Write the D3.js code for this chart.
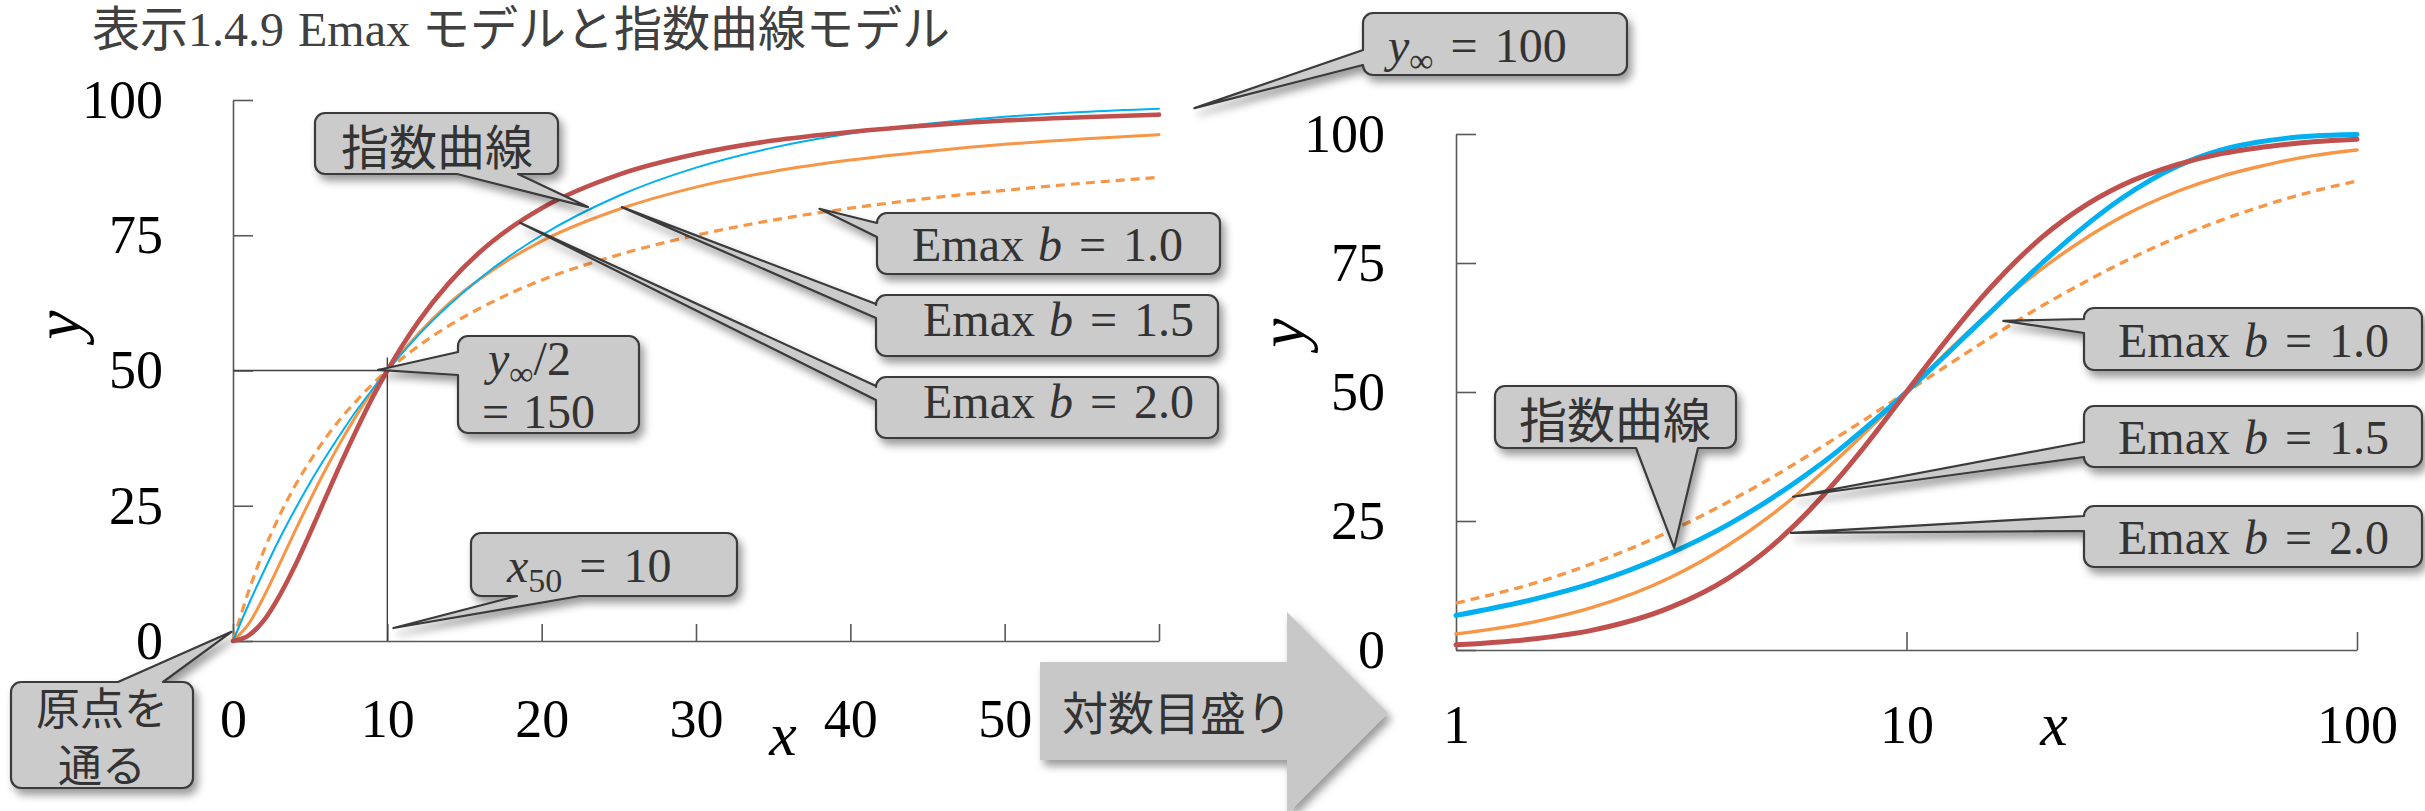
<!DOCTYPE html>
<html>
<head>
<meta charset="utf-8">
<script src="https://cdn.jsdelivr.net/npm/d3@7"></script>
<style>
  html, body { margin: 0; padding: 0; background: #fff; }
  svg { display: block; }
</style>
</head>
<body>
<svg id="chart" width="2425" height="811"></svg>
<script>
// ---- Linear-scale panel: x from 0 to 60 ----
const linX       = [0, 1, 2, 3, 4, 5, 6, 7, 8, 9, 10, 12, 14, 16, 18, 20, 25, 30, 35, 40, 45, 50, 55, 60];
const linExp     = [0, 6.7, 12.9, 18.8, 24.2, 29.3, 34.0, 38.4, 42.6, 46.4, 50.0, 56.5, 62.1, 67.0, 71.3, 75.0, 82.3, 87.5, 91.2, 93.8, 95.6, 96.9, 97.8, 98.4];
const linEmax10  = [0, 9.1, 16.7, 23.1, 28.6, 33.3, 37.5, 41.2, 44.4, 47.4, 50.0, 54.5, 58.3, 61.5, 64.3, 66.7, 71.4, 75.0, 77.8, 80.0, 81.8, 83.3, 84.6, 85.7];
const linEmax15  = [0, 3.1, 8.2, 14.1, 20.2, 26.1, 31.7, 36.9, 41.7, 46.1, 50.0, 56.8, 62.4, 66.9, 70.7, 73.9, 79.8, 83.9, 86.8, 88.9, 90.5, 91.8, 92.8, 93.6];
const linEmax20  = [0, 1.0, 3.8, 8.3, 13.8, 20.0, 26.5, 32.9, 39.0, 44.8, 50.0, 59.0, 66.2, 71.9, 76.4, 80.0, 86.2, 90.0, 92.5, 94.1, 95.3, 96.2, 96.8, 97.3];

// ---- Log-scale panel: x from 1 to 100 ----
const logX       = [1, 1.5, 2, 3, 4, 5, 6, 7, 8, 10, 12, 15, 20, 25, 30, 40, 50, 60, 70, 80, 100];
const logExp     = [6.7, 9.9, 12.9, 18.8, 24.2, 29.3, 34.0, 38.4, 42.6, 50.0, 56.5, 64.6, 75.0, 82.3, 87.5, 93.8, 96.9, 98.4, 99.2, 99.6, 99.9];
const logEmax10  = [9.1, 13.0, 16.7, 23.1, 28.6, 33.3, 37.5, 41.2, 44.4, 50.0, 54.5, 60.0, 66.7, 71.4, 75.0, 80.0, 83.3, 85.7, 87.5, 88.9, 90.9];
const logEmax15  = [3.1, 5.5, 8.2, 14.1, 20.2, 26.1, 31.7, 36.9, 41.7, 50.0, 56.8, 64.8, 73.9, 79.8, 83.9, 88.9, 91.8, 93.6, 94.9, 95.8, 96.9];
const logEmax20  = [1.0, 2.2, 3.8, 8.3, 13.8, 20.0, 26.5, 32.9, 39.0, 50.0, 59.0, 69.2, 80.0, 86.2, 90.0, 94.1, 96.2, 97.3, 98.0, 98.5, 99.0];

// ---- Ticks ----
const yTicks          = [0, 25, 50, 75, 100];
const linXTicks       = [0, 10, 20, 30, 40, 50, 60];
const linXTickLabels  = ["0", "10", "20", "30", "40", "50", ""];
const logXTicks       = [1, 10, 100];
const logXTickLabels  = ["1", "10", "100"];

// ---- Styles ----
const SERIF = "'Liberation Serif', 'DejaVu Serif', serif";
const CJK = "'Noto Sans CJK JP', 'Noto Sans', sans-serif";
const TEXT = "#333333";
const AXIS = "#595959";
const BLUE = "#00B0F0", RED = "#C0504D", ORANGE = "#F79646";

const svg = d3.select("#chart");

// drop shadow used by callouts and the arrow
const defs = svg.append("defs");
const flt = defs.append("filter").attr("id", "shadow")
  .attr("x", "-15%").attr("y", "-15%").attr("width", "140%").attr("height", "150%");
flt.append("feGaussianBlur").attr("in", "SourceAlpha").attr("stdDeviation", 4).attr("result", "blur");
flt.append("feOffset").attr("in", "blur").attr("dx", 4).attr("dy", 6).attr("result", "off");
flt.append("feComponentTransfer").attr("in", "off").attr("result", "sh")
  .append("feFuncA").attr("type", "linear").attr("slope", 0.4);
const mg = flt.append("feMerge");
mg.append("feMergeNode").attr("in", "sh");
mg.append("feMergeNode").attr("in", "SourceGraphic");

// ---- Scales ----
const xL = d3.scaleLinear().domain([0, 60]).range([233, 1159]);
const yL = d3.scaleLinear().domain([0, 100]).range([641, 100]);
const xR = d3.scaleLog().domain([1, 100]).range([1456, 2357]);
const yR = d3.scaleLinear().domain([0, 100]).range([650, 134]);

// ---- Title ----
const title = svg.append("text").attr("x", 92).attr("y", 46)
  .attr("font-size", 48).attr("fill", "#404040");
title.append("tspan").attr("font-family", CJK).text("表示");
title.append("tspan").attr("font-family", SERIF).text("1.4.9");
title.append("tspan").attr("font-family", SERIF).attr("dx", 14).text("Emax");
title.append("tspan").attr("font-family", CJK).attr("dx", 12).text("モデルと指数曲線モデル");

// ---- Axes ----
function styleAxis(g) {
  g.select(".domain").attr("stroke", AXIS).attr("stroke-width", 1.6);
  g.selectAll(".tick line").attr("stroke", AXIS).attr("stroke-width", 1.6);
  g.selectAll(".tick text").attr("font-family", SERIF).attr("font-size", 54).attr("fill", "#000");
}

svg.append("g").attr("transform", `translate(${xL(0)},0)`)
  .call(d3.axisLeft(yL).tickValues(yTicks).tickSizeInner(-20).tickSizeOuter(0).tickPadding(70))
  .call(styleAxis);
svg.append("g").attr("transform", `translate(0,${yL(0)})`)
  .call(d3.axisBottom(xL).tickValues(linXTicks).tickSizeInner(-17).tickSizeOuter(0).tickPadding(58)
    .tickFormat((d, i) => linXTickLabels[i]))
  .call(styleAxis);

svg.append("g").attr("transform", `translate(${xR(1)},0)`)
  .call(d3.axisLeft(yR).tickValues(yTicks).tickSizeInner(-20).tickSizeOuter(0).tickPadding(71))
  .call(styleAxis);
svg.append("g").attr("transform", `translate(0,${yR(0)})`)
  .call(d3.axisBottom(xR).tickValues(logXTicks).tickSizeInner(-18).tickSizeOuter(0).tickPadding(55)
    .tickFormat((d, i) => logXTickLabels[i]))
  .call(styleAxis);

// axis titles
function axisTitle(x, y, t, rotate) {
  svg.append("text")
    .attr("transform", `translate(${x},${y})` + (rotate ? " rotate(-90)" : ""))
    .attr("text-anchor", "middle")
    .attr("font-family", SERIF).attr("font-style", "italic")
    .attr("font-size", rotate ? 66 : 62).attr("fill", "#000").text(t);
}
axisTitle(80, 325, "y", true);
axisTitle(783, 755, "x", false);
axisTitle(1304, 333, "y", true);
axisTitle(2054, 745, "x", false);

// ---- Reference lines at (10, 50) ----
svg.append("line").attr("x1", xL(0)).attr("x2", xL(10)).attr("y1", yL(50)).attr("y2", yL(50))
  .attr("stroke", "#404040").attr("stroke-width", 1.4);
svg.append("line").attr("x1", xL(10)).attr("x2", xL(10)).attr("y1", yL(52.4)).attr("y2", yL(0))
  .attr("stroke", "#404040").attr("stroke-width", 1.4);

// ---- Curves ----
function drawSeries(xs, ys, xs_, ys_, spec) {
  const pts = xs.map((x, i) => [x, ys[i]]);
  const line = d3.line().x(d => xs_(d[0])).y(d => ys_(d[1])).curve(d3.curveMonotoneX);
  svg.append("path").datum(pts).attr("d", line)
    .attr("fill", "none").attr("stroke", spec.color).attr("stroke-width", spec.width)
    .attr("stroke-dasharray", spec.dash || null)
    .attr("stroke-linecap", spec.dash ? "butt" : "round");
}
drawSeries(linX, linEmax10, xL, yL, { color: ORANGE, width: 3.2, dash: "9,6" });
drawSeries(linX, linEmax15, xL, yL, { color: ORANGE, width: 3 });
drawSeries(linX, linExp,    xL, yL, { color: BLUE,   width: 2 });
drawSeries(linX, linEmax20, xL, yL, { color: RED,    width: 4.6 });

drawSeries(logX, logEmax10, xR, yR, { color: ORANGE, width: 3.4, dash: "9,6" });
drawSeries(logX, logEmax15, xR, yR, { color: ORANGE, width: 3.4 });
drawSeries(logX, logExp,    xR, yR, { color: BLUE,   width: 5 });
drawSeries(logX, logEmax20, xR, yR, { color: RED,    width: 5 });

// ---- "対数目盛り" block arrow ----
const ap = d3.path();
ap.moveTo(1040, 662); ap.lineTo(1287, 662); ap.lineTo(1287, 612); ap.lineTo(1388, 713);
ap.lineTo(1287, 814); ap.lineTo(1287, 760); ap.lineTo(1040, 760); ap.closePath();
svg.append("path").attr("d", ap.toString()).attr("fill", "#C8C8C8").attr("filter", "url(#shadow)");
svg.append("text").attr("x", 1062).attr("y", 710).attr("dominant-baseline", "central")
  .attr("font-family", CJK).attr("font-size", 46).attr("fill", TEXT).text("対数目盛り");

// ---- Callouts ----
function calloutPath(b, side, base, tip) {
  const [x, y, w, h] = b, r = 10;
  const p = d3.path();
  p.moveTo(x + r, y);
  if (side === "top") { p.lineTo(base[0], y); p.lineTo(tip[0], tip[1]); p.lineTo(base[1], y); }
  p.lineTo(x + w - r, y); p.arcTo(x + w, y, x + w, y + r, r);
  p.lineTo(x + w, y + h - r); p.arcTo(x + w, y + h, x + w - r, y + h, r);
  if (side === "bottom") { p.lineTo(base[1], y + h); p.lineTo(tip[0], tip[1]); p.lineTo(base[0], y + h); }
  p.lineTo(x + r, y + h); p.arcTo(x, y + h, x, y + h - r, r);
  if (side === "left") { p.lineTo(x, base[1]); p.lineTo(tip[0], tip[1]); p.lineTo(x, base[0]); }
  p.lineTo(x, y + r); p.arcTo(x, y, x + r, y, r);
  p.closePath();
  return p.toString();
}

// math-style label: parts are {t, i (italic), sub (subscript), dx}
function mathText(x, y, parts) {
  const t = svg.append("text").attr("x", x).attr("y", y)
    .attr("font-family", SERIF).attr("font-size", 48).attr("fill", TEXT);
  let shifted = false;
  parts.forEach(p => {
    const s = t.append("tspan").text(p.t);
    if (p.i) s.attr("font-style", "italic");
    if (p.dx) s.attr("dx", p.dx);
    if (p.sub && !shifted) { s.attr("font-size", 34).attr("dy", 10); shifted = true; }
    else if (!p.sub && shifted) { s.attr("dy", -10); shifted = false; }
  });
}
function cjkText(x, y, t, size) {
  svg.append("text").attr("x", x).attr("y", y).attr("text-anchor", "middle")
    .attr("dominant-baseline", "central")
    .attr("font-family", CJK).attr("font-size", size).attr("fill", TEXT).text(t);
}
const emax = v => [{ t: "Emax" }, { t: "b", i: true, dx: 14 }, { t: "=", dx: 17 }, { t: v, dx: 17 }];

const callouts = [
  { box: [315, 113, 243, 61], side: "bottom", base: [457, 518], tip: [xL(23.0), yL(80.2)],
    draw: () => cjkText(437, 143.5, "指数曲線", 48) },
  { box: [877, 213, 343, 61], side: "left", base: [223, 237], tip: [xL(38.0), yL(79.9)],
    draw: () => mathText(912, 261, emax("1.0")) },
  { box: [876, 295, 342, 61], side: "left", base: [304, 318], tip: [xL(25.2), yL(80.2)],
    draw: () => mathText(923, 336, emax("1.5")) },
  { box: [876, 377, 342, 61], side: "left", base: [386, 400], tip: [xL(18.6), yL(77.3)],
    draw: () => mathText(923, 418, emax("2.0")) },
  { box: [458, 336, 181, 97], side: "left", base: [352, 375], tip: [xL(9.4), yL(50.1)],
    draw: () => {
      mathText(488, 375, [{ t: "y", i: true }, { t: "∞", sub: true }, { t: "/2" }]);
      mathText(482, 428, [{ t: "=" }, { t: "150", dx: 14 }]);
    } },
  { box: [471, 533, 266, 63], side: "bottom", base: [517, 580], tip: [xL(10.4), yL(2.4)],
    draw: () => mathText(507, 582, [{ t: "x", i: true }, { t: "50", sub: true }, { t: "=", dx: 17 }, { t: "10", dx: 17 }]) },
  { box: [11, 682, 182, 106], side: "top", base: [118, 163], tip: [xL(-0.1), yL(1.7)],
    draw: () => { cjkText(102, 706, "原点を", 44); cjkText(102, 763, "通る", 44); } },
  { box: [1363, 13, 264, 62], side: "left", base: [50, 65], tip: [xL(62.3), yL(98.5)],
    draw: () => mathText(1388, 62, [{ t: "y", i: true }, { t: "∞", sub: true }, { t: "=", dx: 17 }, { t: "100", dx: 17 }]) },
  { box: [2084, 308, 338, 62], side: "left", base: [319, 333], tip: [xR(16.4), yR(63.8)],
    draw: () => mathText(2118, 357, emax("1.0")) },
  { box: [2084, 406, 338, 61], side: "left", base: [442, 457], tip: [xR(5.6), yR(29.7)],
    draw: () => mathText(2118, 454, emax("1.5")) },
  { box: [2084, 506, 338, 61], side: "left", base: [516, 531], tip: [xR(5.54), yR(22.7)],
    draw: () => mathText(2118, 554, emax("2.0")) },
  { box: [1495, 386, 241, 62], side: "bottom", base: [1636, 1698], tip: [xR(3.05), yR(19.8)],
    draw: () => cjkText(1615, 417, "指数曲線", 48) }
];

callouts.forEach(c => {
  svg.append("path").attr("d", calloutPath(c.box, c.side, c.base, c.tip))
    .attr("fill", "#CBCBCB").attr("stroke", "#3A3A3A").attr("stroke-width", 2.2)
    .attr("stroke-linejoin", "round").attr("filter", "url(#shadow)");
  c.draw();
});
</script>
</body>
</html>
